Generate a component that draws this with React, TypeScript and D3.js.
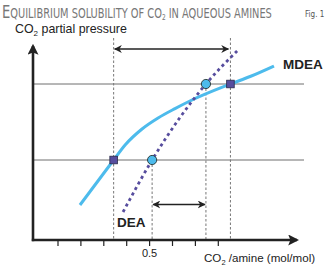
import React, { useLayoutEffect, useRef, useState } from "react";
import * as d3 from "d3";

const W = 325;
const H = 266;

// Data (x: CO2/amine mol/mol, y: relative CO2 partial pressure)
const xTicks = [0.1, 0.2, 0.3, 0.4, 0.5, 0.6, 0.7, 0.8];
const xTickLabels = ["", "", "", "", "0.5", "", "", ""];

const mdeaX = [0.196, 0.343, 0.393, 0.467, 0.537, 0.611, 0.676, 0.853, 0.939, 1.043];
const mdeaY = [0.175, 0.4, 0.475, 0.555, 0.61, 0.657, 0.695, 0.78, 0.8175, 0.87];

const deaX = [0.384, 0.511, 0.746, 0.882];
const deaY = [0.14, 0.4, 0.78, 0.945];

const levels = [0.4, 0.78];
const mdeaMarkX = [0.343, 0.853];
const deaMarkX = [0.511, 0.746];
const guideTop = [1.01, 0.4, 0.78, 1.01];
const guideX = [0.343, 0.511, 0.746, 0.853];

const topArrow = { x0: 0.343, x1: 0.853, y: 0.955 };
const botArrow = { x0: 0.511, x1: 0.746, y: 0.1775 };

const BLUE = "#4dbbec";
const PURPLE = "#574d9e";
const GRAY = "#777";
const INK = "#222";

export default function App() {
  const x = d3.scaleLinear().domain([0, 1]).range([35.1, 264.1]);
  const y = d3.scaleLinear().domain([0, 1]).range([240, 40]);

  const titleRef = useRef<SVGTextElement>(null);
  const [sx, setSx] = useState(0.8);
  useLayoutEffect(() => {
    const el = titleRef.current;
    if (el) {
      const len = el.getComputedTextLength();
      if (len > 0) setSx(270 / len);
    }
  }, []);

  const axisX0 = 33;
  const axisY0 = 240;

  const mdeaLine = d3
    .line<number>()
    .x((_, i) => x(mdeaX[i]))
    .y((_, i) => y(mdeaY[i]))
    .curve(d3.curveMonotoneX);
  const deaLine = d3
    .line<number>()
    .x((_, i) => x(deaX[i]))
    .y((_, i) => y(deaY[i]))
    .curve(d3.curveMonotoneX);

  const sans = "Arial, 'Liberation Sans', Helvetica, sans-serif";
  const cond = "'DejaVu Sans Condensed', 'Liberation Sans Narrow', 'DejaVu Sans', sans-serif";

  return (
    <svg
      width={W}
      height={H}
      style={{ position: "absolute", left: 0, top: 0, background: "#fff" }}
    >
      <defs>
        <marker id="ah" viewBox="0 0 10 10" refX="9" refY="5" markerWidth="8" markerHeight="8" orient="auto-start-reverse" markerUnits="userSpaceOnUse">
          <path d="M0,0 L10,5 L0,10 L3,5 z" fill={INK} />
        </marker>
        <marker id="axh" viewBox="0 0 10 10" refX="8" refY="5" markerWidth="11" markerHeight="11" orient="auto" markerUnits="userSpaceOnUse">
          <path d="M0,0 L10,5 L0,10 L2,5 z" fill={INK} />
        </marker>
      </defs>

      {/* Title */}
      <text
        ref={titleRef}
        transform={`translate(2,18) scale(${sx},1)`}
        fill={GRAY}
        fontFamily={cond}
        fontStretch="condensed"
        fontWeight={500}
      >
        <tspan fontSize={18}>E</tspan>
        <tspan fontSize={13.5}>QUILIBRIUM SOLUBILITY OF CO</tspan>
        <tspan fontSize={8} dy={2}>2</tspan>
        <tspan fontSize={13.5} dy={-2}> IN AQUEOUS AMINES</tspan>
      </text>
      <text x={305} y={17} fontSize={8} fill="#555" fontFamily={cond} fontStretch="condensed">
        Fig. 1
      </text>

      {/* Y label */}
      <text x={15} y={33} fontSize={12.4} fill={INK} fontFamily={sans}>
        CO<tspan fontSize={8} dy={3}>2</tspan>
        <tspan dy={-3}> partial pressure</tspan>
      </text>

      {/* horizontal level lines */}
      {levels.map((l, i) => (
        <line key={"h" + i} x1={axisX0} x2={304} y1={y(l)} y2={y(l)} stroke="#6e6e6e" strokeWidth={1} />
      ))}

      {/* vertical dashed guides */}
      {guideX.map((gx, i) => (
        <line
          key={"v" + i}
          x1={x(gx)}
          x2={x(gx)}
          y1={y(guideTop[i])}
          y2={axisY0}
          stroke="#777"
          strokeWidth={1}
          strokeDasharray="2.5 2"
        />
      ))}

      {/* range arrows */}
      <line
        x1={x(topArrow.x0) + 1}
        x2={x(topArrow.x1) - 2}
        y1={y(topArrow.y)}
        y2={y(topArrow.y)}
        stroke={INK}
        strokeWidth={1.3}
        markerStart="url(#ah)"
        markerEnd="url(#ah)"
      />
      <line
        x1={x(botArrow.x0) + 1}
        x2={x(botArrow.x1) - 1}
        y1={y(botArrow.y)}
        y2={y(botArrow.y)}
        stroke={INK}
        strokeWidth={1.3}
        markerStart="url(#ah)"
        markerEnd="url(#ah)"
      />

      {/* curves */}
      <path d={mdeaLine(mdeaX) || ""} fill="none" stroke={BLUE} strokeWidth={3} strokeLinecap="butt" />
      <path d={deaLine(deaX) || ""} fill="none" stroke={PURPLE} strokeWidth={2.8} strokeDasharray="3 3.3" />

      {/* markers */}
      {mdeaMarkX.map((mx, i) => (
        <rect
          key={"s" + i}
          x={x(mx) - 3.8}
          y={y(levels[i]) - 3.8}
          width={7.6}
          height={7.6}
          fill={PURPLE}
          stroke="#2a2a4a"
          strokeWidth={0.8}
        />
      ))}
      {deaMarkX.map((mx, i) => (
        <circle key={"c" + i} cx={x(mx)} cy={y(levels[i])} r={4.6} fill={BLUE} stroke="#233" strokeWidth={0.9} />
      ))}

      {/* axes */}
      <line x1={axisX0} x2={axisX0} y1={axisY0 + 1.2} y2={46} stroke={INK} strokeWidth={2.6} markerEnd="url(#axh)" />
      <line x1={axisX0 - 1.2} x2={297} y1={axisY0} y2={axisY0} stroke={INK} strokeWidth={2.6} markerEnd="url(#axh)" />
      {xTicks.map((t, i) => (
        <g key={"t" + i}>
          <line x1={x(t)} x2={x(t)} y1={axisY0} y2={axisY0 + 6} stroke={INK} strokeWidth={1.2} />
          {xTickLabels[i] && (
            <text x={x(t)} y={257} fontSize={11} textAnchor="middle" fill={INK} fontFamily={sans}>
              {xTickLabels[i]}
            </text>
          )}
        </g>
      ))}

      {/* X label */}
      <text x={204} y={262} fontSize={11.6} fill={INK} fontFamily={sans}>
        CO<tspan fontSize={7.5} dy={2.5}>2</tspan>
        <tspan dy={-2.5}> /amine (mol/mol)</tspan>
      </text>

      {/* series labels */}
      <text x={283} y={68.5} fontSize={13.5} fontWeight="bold" fill={INK} fontFamily={sans}>
        MDEA
      </text>
      <text x={117} y={227} fontSize={13.5} fontWeight="bold" fill={INK} fontFamily={sans}>
        DEA
      </text>
    </svg>
  );
}
